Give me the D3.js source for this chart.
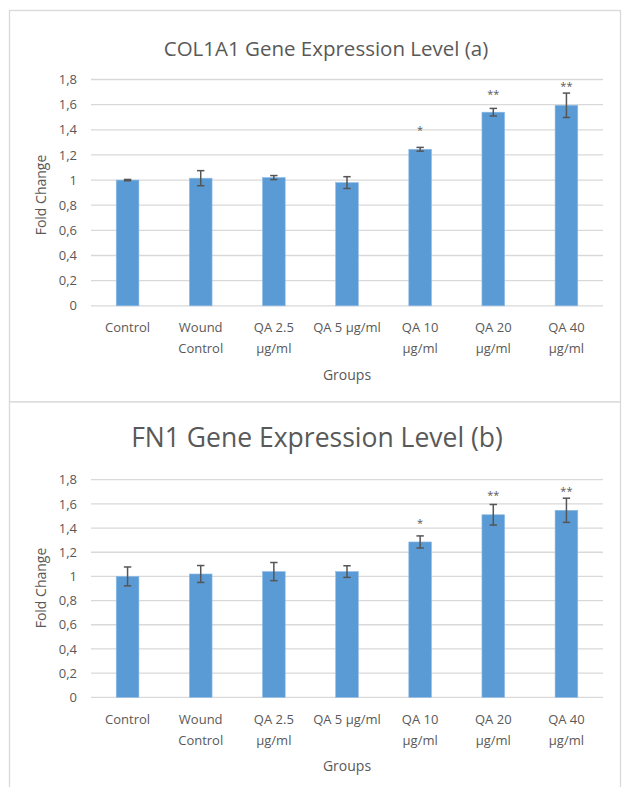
<!DOCTYPE html>
<html>
<head>
<meta charset="utf-8">
<script src="https://cdn.jsdelivr.net/npm/d3@7"></script>
<style>
  html, body { margin: 0; padding: 0; background: #ffffff; }
  svg { display: block; }
  text { font-family: "Open Sans", "Noto Sans", sans-serif; fill: #595959; }
</style>
</head>
<body>
<svg id="chart" width="623" height="787"></svg>
<script>
// Groups on the x axis, with the line breaks used for their labels
const groups = ["Control", "Wound Control", "QA 2.5 µg/ml", "QA 5 µg/ml", "QA 10 µg/ml", "QA 20 µg/ml", "QA 40 µg/ml"];
const groupLabelLines = [["Control"], ["Wound", "Control"], ["QA 2.5", "µg/ml"], ["QA 5 µg/ml"], ["QA 10", "µg/ml"], ["QA 20", "µg/ml"], ["QA 40", "µg/ml"]];

// COL1A1 fold change: means, error (±) and significance marks
const col1a1Mean = [1.00, 1.015, 1.02, 0.98, 1.245, 1.54, 1.595];
const col1a1Err  = [0.005, 0.06, 0.016, 0.047, 0.015, 0.03, 0.097];
const col1a1Sig  = ["", "", "", "", "*", "**", "**"];
const col1a1SigLevel = [null, null, null, null, 1.412, 1.703, 1.762];

// FN1 fold change: means, error (±) and significance marks
const fn1Mean = [1.00, 1.02, 1.04, 1.04, 1.285, 1.51, 1.547];
const fn1Err  = [0.078, 0.07, 0.075, 0.048, 0.05, 0.085, 0.1];
const fn1Sig  = ["", "", "", "", "*", "**", "**"];
const fn1SigLevel = [null, null, null, null, 1.458, 1.686, 1.722];

// Shared value axis
const yTicks = [0, 0.2, 0.4, 0.6, 0.8, 1.0, 1.2, 1.4, 1.6, 1.8];
const yMax = 1.8;

const svg = d3.select("#chart");
const fmt = v => d3.format("~g")(+v.toFixed(1)).replace(".", ",");

function drawPanel(p) {
  const g = svg.append("g");

  // panel frame
  g.append("rect")
    .attr("x", p.frame[0]).attr("y", p.frame[1])
    .attr("width", p.frame[2]).attr("height", p.frame[3])
    .attr("fill", "#ffffff").attr("stroke", "#d9d9d9").attr("stroke-width", 1.3);

  const x = d3.scaleBand().domain(groups).range([91, 603]).paddingInner(0.69).paddingOuter(0.345);
  const y = d3.scaleLinear().domain([0, yMax]).range([p.y0, p.y1]);
  const cx = i => x(groups[i]) + x.bandwidth() / 2;

  // gridlines
  g.append("g").selectAll("line").data(yTicks).join("line")
    .attr("x1", 91).attr("x2", 603)
    .attr("y1", d => y(d)).attr("y2", d => y(d))
    .attr("stroke", "#d9d9d9").attr("stroke-width", 1.3);

  // y axis tick labels
  const yAxis = d3.axisLeft(y).tickValues(yTicks).tickFormat(fmt).tickSize(0).tickPadding(0);
  const ya = g.append("g").attr("transform", "translate(77,0)").call(yAxis);
  ya.select(".domain").remove();
  ya.selectAll("text").attr("font-size", 13).attr("fill", "#595959")
    .style("font-family", '"Open Sans", sans-serif');

  // bars
  g.append("g").selectAll("rect").data(p.mean).join("rect")
    .attr("x", (d, i) => x(groups[i]))
    .attr("width", x.bandwidth())
    .attr("y", d => y(d))
    .attr("height", d => y(0) - y(d))
    .attr("fill", "#5b9bd5")
    .attr("stroke", "#8dbbe6").attr("stroke-width", 0.6);

  // error bars
  const eb = g.append("g").attr("stroke", "#555555").attr("stroke-width", 1.5).attr("fill", "none");
  p.mean.forEach((m, i) => {
    const lo = y(m - p.err[i]), hi = y(m + p.err[i]);
    eb.append("line").attr("x1", cx(i)).attr("x2", cx(i)).attr("y1", lo).attr("y2", hi);
    eb.append("line").attr("x1", cx(i) - 3.7).attr("x2", cx(i) + 3.7).attr("y1", lo).attr("y2", lo);
    eb.append("line").attr("x1", cx(i) - 3.7).attr("x2", cx(i) + 3.7).attr("y1", hi).attr("y2", hi);
  });

  // significance marks
  const marks = p.sig.map((s, i) => ({ i, s, level: p.sigLevel[i] })).filter(d => d.s !== "");
  g.append("g").selectAll("text").data(marks).join("text")
    .attr("x", d => cx(d.i))
    .attr("y", d => y(d.level) + 6)
    .attr("text-anchor", "middle").attr("font-size", 11).attr("fill", "#595959")
    .text(d => d.s);

  // category labels
  const xl = g.append("g");
  groupLabelLines.forEach((lines, i) => {
    const t = xl.append("text")
      .attr("x", cx(i))
      .attr("y", p.xLabelY)
      .attr("text-anchor", "middle").attr("font-size", 13).attr("fill", "#595959");
    lines.forEach((ln, k) => t.append("tspan")
      .attr("x", cx(i))
      .attr("dy", k === 0 ? 0 : 20.5).text(ln));
  });

  // axis titles
  g.append("text").attr("x", 347).attr("y", p.xTitleY)
    .attr("text-anchor", "middle").attr("font-size", 14).attr("fill", "#595959").text("Groups");
  g.append("text")
    .attr("transform", `translate(46,${p.yTitleY}) rotate(-90)`)
    .attr("text-anchor", "middle").attr("font-size", 14).attr("fill", "#595959").text("Fold Change");

  // chart title
  g.append("text").attr("x", p.titleX).attr("y", p.titleY)
    .attr("text-anchor", "middle").attr("font-size", p.titleSize).attr("fill", "#595959").text(p.title);
}

drawPanel({
  frame: [9.5, 10.5, 611, 391.5],
  y0: 305.8, y1: 79.5,
  mean: col1a1Mean, err: col1a1Err, sig: col1a1Sig, sigLevel: col1a1SigLevel,
  xLabelY: 332, xTitleY: 380, yTitleY: 195,
  title: "COL1A1 Gene Expression Level (a)", titleX: 326, titleY: 56, titleSize: 20.5
});

drawPanel({
  frame: [9.5, 402, 611, 400],
  y0: 697.3, y1: 479.7,
  mean: fn1Mean, err: fn1Err, sig: fn1Sig, sigLevel: fn1SigLevel,
  xLabelY: 724, xTitleY: 771, yTitleY: 588,
  title: "FN1 Gene Expression Level (b)", titleX: 317, titleY: 447, titleSize: 26.5
});
</script>
</body>
</html>
